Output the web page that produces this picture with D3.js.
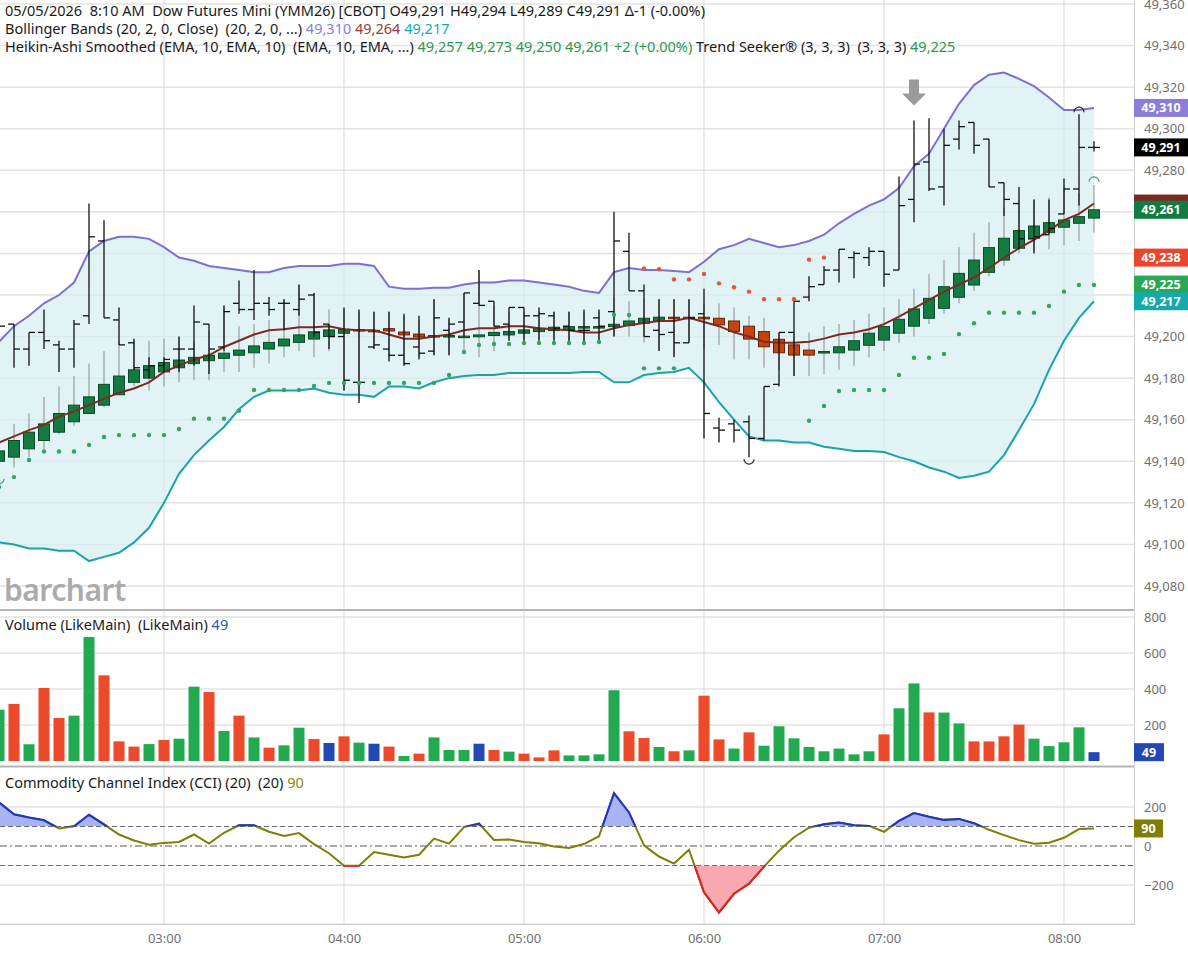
<!DOCTYPE html>
<html>
  <head>
    <meta charset="utf-8">
    <script type="text/javascript" src="https://cdn.jsdelivr.net/npm/d3@7"></script>
    <style type="text/css">
      body { margin: 0; background: #ffffff; }
      svg text { font-family: "Noto Sans", "Open Sans", sans-serif; white-space: pre; }
    </style>
  </head>
  <body>
    <script type="text/javascript">

      // 5 minute bars, 02:05 .. 08:10
      var times = ["02:05","02:10","02:15","02:20","02:25","02:30","02:35","02:40","02:45","02:50","02:55","03:00",
                   "03:05","03:10","03:15","03:20","03:25","03:30","03:35","03:40","03:45","03:50","03:55","04:00",
                   "04:05","04:10","04:15","04:20","04:25","04:30","04:35","04:40","04:45","04:50","04:55","05:00",
                   "05:05","05:10","05:15","05:20","05:25","05:30","05:35","05:40","05:45","05:50","05:55","06:00",
                   "06:05","06:10","06:15","06:20","06:25","06:30","06:35","06:40","06:45","06:50","06:55","07:00",
                   "07:05","07:10","07:15","07:20","07:25","07:30","07:35","07:40","07:45","07:50","07:55","08:00",
                   "08:05","08:10"];

      // plain OHLC bars
      var open  = [49205,49206,49194,49202,49196,49194,49210,49246,49208,49197,49184,49186,49194,49194,49206,49195,49216,49213,49216,49216,
                   49213,49220,49206,49200,49178,49195,49194,49191,49195,49193,49203,49207,49216,49217,49206,49214,49210,49210,49205,49203,
                   49209,49212,49241,49222,49203,49202,49197,49211,49156,49158,49159,49151,49177,49202,49219,49225,49232,49238,49238,49241,
                   49232,49266,49284,49272,49295,49303,49295,49274,49264,49247,49249,49259,49271,49291];
      var high  = [49208,49206,49202,49213,49198,49208,49264,49256,49214,49199,49190,49190,49200,49215,49206,49215,49227,49232,49219,49218,
                   49225,49221,49206,49214,49213,49212,49212,49211,49210,49218,49209,49221,49232,49217,49214,49214,49214,49212,49212,49213,
                   49213,49260,49250,49225,49218,49218,49218,49223,49161,49160,49162,49176,49202,49219,49229,49234,49242,49241,49243,49241,
                   49277,49304,49305,49300,49304,49303,49295,49274,49272,49266,49266,49276,49307,49294];
      var low   = [49196,49185,49186,49194,49183,49185,49206,49209,49196,49184,49180,49183,49183,49186,49182,49193,49211,49208,49210,49203,
                   49210,49200,49194,49174,49168,49194,49188,49186,49189,49191,49191,49200,49215,49205,49198,49198,49198,49198,49197,49197,
                   49197,49200,49222,49200,49193,49190,49197,49151,49149,49149,49142,49150,49176,49181,49217,49225,49226,49228,49234,49224,
                   49232,49255,49270,49263,49290,49288,49272,49258,49242,49240,49249,49259,49263,49289];
      var close = [49205,49194,49202,49198,49194,49206,49248,49209,49196,49185,49186,49189,49194,49207,49194,49212,49213,49216,49213,49216,
                   49218,49202,49200,49179,49178,49196,49191,49187,49192,49209,49206,49221,49215,49205,49214,49210,49211,49204,49203,49203,
                   49205,49246,49222,49200,49201,49197,49209,49163,49155,49155,49151,49176,49202,49217,49224,49232,49242,49240,49241,49230,
                   49263,49283,49271,49292,49301,49292,49272,49266,49247,49248,49252,49271,49291,49291];

      // Heikin-Ashi Smoothed candles
      var haOpen  = [49140,49142,49146,49150,49154,49159,49163,49167,49172,49178,49180,49183,49185,49187,49188.4,49189.5,49191,49192.2,49194,49195.5,
                     49197.2,49198.8,49200,49201.6,49203,49203,49203.8,49202.2,49201.2,49200.5,49200.2,49200,49199.9,49200.5,49200.8,49201.6,49202.4,49202.9,49203.2,49204.3,
                     49204.3,49204.8,49205.3,49206.4,49207.6,49209.3,49209.3,49209.3,49208.8,49207.5,49205,49202.4,49198.7,49196,49193.5,49192.4,49192.2,49193.5,49195.8,49198.3,
                     49201.6,49205,49208.8,49213.6,49218.9,49224.8,49230.9,49236.8,49242.5,49247.3,49250,49252.6,49254.5,49257];
      var haClose = [49145,49150,49154,49158,49163,49167,49171,49177,49181,49184,49186,49187.5,49188.7,49190,49191,49192,49193.5,49195.5,49197.2,49198.8,
                     49200.8,49202.3,49203.2,49203.5,49203.4,49202.6,49202.7,49200.8,49199.8,49200,49200.5,49200.2,49200.8,49202,49202.4,49203.2,49204,49204.5,49204.8,49204.8,
                     49204.8,49205.9,49207.5,49208.8,49209.3,49208.7,49208.7,49208.5,49205.6,49202.4,49198.8,49195.1,49192.2,49191.1,49191.1,49192.8,49195.1,49198,49201.6,49204.8,
                     49208.3,49213.3,49218.4,49224,49230.4,49236.8,49242.8,49247.3,49251,49253.2,49254.8,49256.1,49257.7,49261];
      var haHigh  = [49150,49158,49163,49171,49176,49181,49187,49193,49198,49198,49198,49199,49200,49198,49203,49215,49205,49206,49208,49218,
                     49225,49221,49213,49213,49212,49212,49212,49210,49208,49218,49208,49221,49232,49215,49212,49212,49212,49212,49212,49212,
                     49212,49219,49217,49218,49218,49218,49218,49216,49216,49214,49210,49209,49202,49202,49202,49205,49206,49208,49211,49214,
                     49218,49223,49230,49237,49243,49250,49255,49262,49266,49266,49267,49272,49269,49273];
      var haLow   = [49133,49137,49142,49146,49153,49157,49165,49166,49172,49176,49174,49176,49178,49179,49179,49183,49183,49185,49187,49190,
                     49193,49190,49193,49174,49170,49195,49190,49186,49190,49191,49191,49192,49190,49193,49198,49198,49198,49198,49198,49198,
                     49198,49200,49200,49197,49193,49191,49197,49194,49196,49189,49189,49185,49184,49181,49181,49182,49184,49186,49190,49193,
                     49197,49200,49206,49211,49216,49222,49229,49234,49240,49241,49242,49244,49246,49250];

      // Bollinger Bands (20, 2)
      var bbUpper = [49197.5,49205,49210,49216,49220,49226,49241,49246,49248,49248,49247,49243,49238,49236.5,49234,49233,49232,49231,49231,49233,
                     49234,49234,49234,49235,49235,49234,49224,49223,49223,49223.5,49223.5,49225,49226,49226,49227,49227,49226,49225,49224,49222,
                     49221,49231,49233,49232,49232,49231.5,49231,49236,49242,49244,49247,49245,49243,49244,49246,49249,49254.5,49259,49263,49266,
                     49271.5,49282,49288,49300,49312,49321,49326,49327,49324,49320.5,49315,49309,49309,49310];
      var bbMiddle = [49149,49152,49155,49157.5,49161.5,49164,49167,49170,49173,49175,49178,49183,49186,49189,49191,49195,49198,49201,49203,49203.5,
                      49204.5,49204.5,49205,49203.5,49203,49203,49201,49199,49199,49200,49201,49203,49204,49204,49205,49205,49204,49203.5,49203,49202,
                      49202,49204,49205.5,49206.5,49207.5,49207.5,49209,49207,49205,49202,49200,49197.5,49197,49197,49197.5,49199,49201,49202,49203.5,49206,
                      49209.6,49213.6,49217.6,49221.6,49225,49228.5,49233,49238,49242.5,49246.5,49251,49256,49259,49264];
      var bbLower = [49101,49100,49098,49098,49097,49097,49092,49094,49096,49101,49108,49120,49134,49143,49150,49156.5,49165,49171,49174,49174,
                     49174,49175,49173,49172,49172,49171,49176,49176,49175,49178,49180,49181,49181.5,49181.5,49182.5,49182.5,49182.5,49182.5,49182.5,49183,
                     49183,49178,49178,49181.5,49182.5,49183,49185,49178,49168.5,49160,49152,49150,49150,49149,49149,49147,49146,49145,49145,49144.5,
                     49142,49140,49137,49135,49132,49133,49135,49143,49155,49167.5,49184,49198,49209,49217];

      // Trend Seeker support (green) and resistance (red) dots
      var tsSupport = [49127.6,49132.4,49140.6,49144.7,49144.7,49144.7,49147.8,49151.7,49152.6,49152.6,49152.6,49152.6,49155.5,49160.5,49160.5,49160.5,49164.3,49174.3,49174.3,49174.3,
                       49174.3,49176.2,49177.7,49177.7,49177.7,49177.7,49177.7,49177.7,49177.7,49177.7,49181.5,49192.6,49196,49196.4,49196.4,49196.9,49196.9,49196.9,49196.9,49196.9,
                       49197.4,49210.4,49210.4,49184.7,49184.7,49184.7,null,null,null,null,null,null,null,null,49159.5,49166.6,49173.8,49174.3,49174.3,49174.3,
                       49181.5,49189.8,49189.8,49191.6,49201.2,49206.4,49211.5,49211.5,49211.5,49211.5,49214.7,49221.6,49224.8,49224.8];
      var tsResist = [null,null,null,null,null,null,null,null,null,null,null,null,null,null,null,null,null,null,null,null,
                      null,null,null,null,null,null,null,null,null,null,null,null,null,null,null,null,null,null,null,null,
                      null,null,null,49232.8,49232.4,49227.5,49227.5,49230.1,49225.6,49223.7,49221.6,49218,49218,49218,49237,49238,null,null,null,null,
                      null,null,null,null,null,null,null,null,null,null,null,null,null,null];

      // volume and bar direction (u = up, d = down, n = unchanged)
      var volume = [285,317,93,406,239,252,689,476,109,80,94,117,124,413,383,167,252,131,74,87,
                    185,122,100,137,102,96,80,28,41,131,61,61,96,61,52,41,20,59,31,31,
                    37,393,165,128,78,54,59,363,120,69,159,85,193,126,78,54,69,37,54,148,
                    293,431,270,269,209,109,109,137,202,124,83,104,187,49];
      var volDir = ["u","d","u","d","d","u","u","d","d","d","u","d","u","u","d","u","d","u","d","u",
                    "u","d","n","d","u","n","d","u","d","u","u","u","n","d","u","d","d","d","u","u",
                    "u","u","d","d","u","d","u","d","d","u","d","u","u","u","u","u","u","u","u","d",
                    "u","u","d","u","u","d","d","d","d","u","u","u","u","n"];

      // Commodity Channel Index (20)
      var cci = [224,163,146,132,90,101,160,111,59,28,7,16,21,59,12,68,106,106,73,52,
                 66,10,-37,-101,-101,-31,-45,-59,-45,38,12,97,115,31,33,21,14,-2,-10,10,
                 50,271,172,3,-54,-90,-19,-237,-341,-245,-193,-106,-24,45,94,111,120,106,103,73,
                 129,169,150,134,139,117,83,56,30,12,17,42,87,90];

      // markers: swing highs / lows and the Trend Seeker signal arrow
      var swingLowBars = [50];
      var swingHighBars = [72];
      var haSwingHighBars = [73];
      var haSwingLowBars = [0];
      var signalBars = [61];

      // ticks (grid) and the labels left visible beside the value boxes
      var priceTicks = [49080,49100,49120,49140,49160,49180,49200,49220,49240,49260,49280,49300,49320,49340,49360];
      var priceLabels = [49080,49100,49120,49140,49160,49180,49200,49280,49300,49320,49340,49360];
      var volTicks = [0,200,400,600,800];
      var volLabels = [200,400,600,800];
      var cciTicks = [-200,0,200];
      var hourTicks = ["03:00","04:00","05:00","06:00","07:00","08:00"];

      // last values for the axis boxes
      var lastBBUpper = 49310, lastClose = 49291, lastBBMiddle = 49264, lastHA = 49261;
      var lastResist = 49238, lastSupport = 49225, lastBBLower = 49217;
      var lastVolume = 49, lastCCI = 90;

      var width = 1188;
      var height = 953;
      var plotRight = 1134;

      var svg = d3.select("body")
                  .append("svg")
                  .attr("width", width)
                  .attr("height", height);

      var parse = d3.timeParse("%H:%M");
      var dates = times.map(parse);
      var hours = hourTicks.map(parse);

      var x = d3.scaleTime()
                .domain([dates[0], dates[dates.length - 1]])
                .range([-1, 1094]);
      var y = d3.scaleLinear().domain([49080, 49360]).range([586, 4]);
      var yV = d3.scaleLinear().domain([0, 800]).range([761, 617]);
      var yC = d3.scaleLinear().domain([-200, 200]).range([885, 807]);
      var xi = function(i) { return x(dates[i]); };

      var defs = svg.append("defs");
      function clip(id, y0, h) {
        defs.append("clipPath").attr("id", id)
            .append("rect").attr("x", 0).attr("y", y0).attr("width", plotRight).attr("height", h);
      }
      clip("cMain", 0, 609);
      clip("cVol", 612, 154);
      clip("cCci", 768, 157);
      clip("cUp", 768, yC(100) - 768);
      clip("cDn", yC(-100), 925 - yC(-100));

      var gridCol = "#e3e3e3";

      // ---------- grid ----------
      var grid = svg.append("g");
      grid.selectAll(".hp").data(priceTicks).enter().append("line")
          .attr("x1", 0).attr("x2", plotRight)
          .attr("y1", function(d){ return y(d); }).attr("y2", function(d){ return y(d); })
          .attr("stroke", gridCol).attr("stroke-width", 1.5);
      grid.selectAll(".hv").data(volTicks.slice(1)).enter().append("line")
          .attr("x1", 0).attr("x2", plotRight)
          .attr("y1", function(d){ return yV(d); }).attr("y2", function(d){ return yV(d); })
          .attr("stroke", gridCol).attr("stroke-width", 1.5);
      grid.selectAll(".hc").data([200, -200, -400]).enter().append("line")
          .attr("x1", 0).attr("x2", plotRight)
          .attr("y1", function(d){ return yC(d); }).attr("y2", function(d){ return yC(d); })
          .attr("stroke", gridCol).attr("stroke-width", 1.5);
      grid.selectAll(".vt").data(hours).enter().append("line")
          .attr("x1", function(d){ return x(d); }).attr("x2", function(d){ return x(d); })
          .attr("y1", 0).attr("y2", 925)
          .attr("stroke", "#d9d9d9").attr("stroke-width", 1);

      // ---------- main panel ----------
      var main = svg.append("g").attr("clip-path", "url(#cMain)");

      var band = d3.area()
                   .x(function(d, i){ return xi(i); })
                   .y0(function(d, i){ return y(bbLower[i]); })
                   .y1(function(d){ return y(d); });
      main.append("path").datum(bbUpper)
          .attr("d", band).attr("fill", "#d6eef2").attr("opacity", 0.7);

      var line = function(arr) {
        return d3.line().x(function(d, i){ return xi(i); }).y(function(d){ return y(d); })(arr);
      };
      main.append("path").attr("d", line(bbUpper)).attr("fill", "none")
          .attr("stroke", "#7d70d2").attr("stroke-width", 2);
      main.append("path").attr("d", line(bbLower)).attr("fill", "none")
          .attr("stroke", "#17a5a6").attr("stroke-width", 2);

      // Heikin-Ashi wicks and bodies
      var idx = d3.range(times.length);
      main.selectAll(".haw").data(idx).enter().append("line")
          .attr("x1", xi).attr("x2", xi)
          .attr("y1", function(i){ return y(haHigh[i]); })
          .attr("y2", function(i){ return y(haLow[i]); })
          .attr("stroke", "#8c8c8c").attr("stroke-width", 1);
      main.selectAll(".hab").data(idx).enter().append("rect")
          .attr("x", function(i){ return xi(i) - 5.5; })
          .attr("width", 11)
          .attr("y", function(i){ return y(Math.max(haOpen[i], haClose[i])); })
          .attr("height", function(i){ return Math.max(1.5, Math.abs(y(haOpen[i]) - y(haClose[i]))); })
          .attr("fill", function(i){ return haClose[i] >= haOpen[i] ? "#137b42" : "#c4430f"; })
          .attr("stroke", function(i){ return haClose[i] >= haOpen[i] ? "#0b4a27" : "#6a2407"; })
          .attr("stroke-width", 1);

      main.append("path").attr("d", line(bbMiddle)).attr("fill", "none")
          .attr("stroke", "#7d2a25").attr("stroke-width", 2);

      // OHLC bars
      var bars = main.selectAll(".ohlc").data(idx).enter().append("g");
      bars.append("line")
          .attr("x1", xi).attr("x2", xi)
          .attr("y1", function(i){ return y(high[i]); })
          .attr("y2", function(i){ return y(low[i]); })
          .attr("stroke", "#111").attr("stroke-width", 1.3);
      bars.append("line")
          .attr("x1", function(i){ return xi(i) - 6; }).attr("x2", xi)
          .attr("y1", function(i){ return y(open[i]); })
          .attr("y2", function(i){ return y(open[i]); })
          .attr("stroke", "#111").attr("stroke-width", 1.3);
      bars.append("line")
          .attr("x1", xi).attr("x2", function(i){ return xi(i) + 6; })
          .attr("y1", function(i){ return y(close[i]); })
          .attr("y2", function(i){ return y(close[i]); })
          .attr("stroke", "#111").attr("stroke-width", 1.3);

      // Trend Seeker dots
      main.selectAll(".tss").data(idx.filter(function(i){ return tsSupport[i] !== null; }))
          .enter().append("circle")
          .attr("cx", xi).attr("cy", function(i){ return y(tsSupport[i]); })
          .attr("r", 2.2).attr("fill", "#35a463");
      main.selectAll(".tsr").data(idx.filter(function(i){ return tsResist[i] !== null; }))
          .enter().append("circle")
          .attr("cx", xi).attr("cy", function(i){ return y(tsResist[i]); })
          .attr("r", 2.2).attr("fill", "#e8553e");

      // swing markers (small half circles)
      var arc = function(cx, cy, up) {
        return up ? "M" + (cx - 5) + "," + cy + " A5,5 0 0 1 " + (cx + 5) + "," + cy
                  : "M" + (cx - 5) + "," + cy + " A5,5 0 0 0 " + (cx + 5) + "," + cy;
      };
      swingLowBars.forEach(function(i){
        main.append("path").attr("d", arc(xi(i), y(low[i]) + 2, false))
            .attr("fill", "none").attr("stroke", "#222").attr("stroke-width", 1.2);
      });
      swingHighBars.forEach(function(i){
        main.append("path").attr("d", arc(xi(i), y(high[i]) - 2, true))
            .attr("fill", "none").attr("stroke", "#222").attr("stroke-width", 1.2);
      });
      haSwingHighBars.forEach(function(i){
        main.append("path").attr("d", arc(xi(i), y(haHigh[i]) - 3, true))
            .attr("fill", "none").attr("stroke", "#3a9e86").attr("stroke-width", 1.2);
      });
      haSwingLowBars.forEach(function(i){
        main.append("path").attr("d", arc(xi(i), y(haLow[i]) + 3, false))
            .attr("fill", "none").attr("stroke", "#3a9e86").attr("stroke-width", 1.2);
      });

      // Trend Seeker sell arrow
      signalBars.forEach(function(i){
        var cx = xi(i), tip = y(high[i]) - 15;
        main.append("path")
            .attr("d", "M" + (cx - 5) + "," + (tip - 26) + " H" + (cx + 5) + " V" + (tip - 12) +
                       " H" + (cx + 12) + " L" + cx + "," + tip + " L" + (cx - 12) + "," + (tip - 12) +
                       " H" + (cx - 5) + " Z")
            .attr("fill", "#9a9a9a");
      });

      // watermark
      svg.append("text").attr("x", 4).attr("y", 601)
         .attr("font-size", 30).attr("font-weight", 600).attr("fill", "#ababab")
         .attr("letter-spacing", -0.5)
         .text("barchart");

      // ---------- volume panel ----------
      var vol = svg.append("g").attr("clip-path", "url(#cVol)");
      var volColor = { u: "#22aa50", d: "#ec4a2b", n: "#2247b6" };
      vol.selectAll("rect").data(idx).enter().append("rect")
         .attr("x", function(i){ return xi(i) - 5.5; })
         .attr("width", 11)
         .attr("y", function(i){ return yV(volume[i]); })
         .attr("height", function(i){ return yV(0) - yV(volume[i]); })
         .attr("fill", function(i){ return volColor[volDir[i]]; });

      // ---------- CCI panel ----------
      var cciG = svg.append("g").attr("clip-path", "url(#cCci)");
      var refLine = function(v, dash) {
        cciG.append("line").attr("x1", 0).attr("x2", plotRight)
            .attr("y1", yC(v)).attr("y2", yC(v))
            .attr("stroke", "#555").attr("stroke-width", 1)
            .attr("stroke-dasharray", dash);
      };
      refLine(100, "5,3");
      refLine(-100, "5,3");
      refLine(0, "7,3,2,3");

      var cciX = function(d, i){ return xi(i); };
      var cciLine = d3.line().x(cciX).y(function(d){ return yC(d); });
      var areaUp = d3.area().x(cciX).y0(yC(100)).y1(function(d){ return yC(d); });
      var areaDn = d3.area().x(cciX).y0(yC(-100)).y1(function(d){ return yC(d); });

      cciG.append("path").datum(cci).attr("d", areaUp)
          .attr("fill", "#a8b3f3").attr("clip-path", "url(#cUp)");
      cciG.append("path").datum(cci).attr("d", areaDn)
          .attr("fill", "#f8a9b0").attr("clip-path", "url(#cDn)");
      cciG.append("path").datum(cci).attr("d", cciLine)
          .attr("fill", "none").attr("stroke", "#7f7f05").attr("stroke-width", 2);
      cciG.append("path").datum(cci).attr("d", cciLine)
          .attr("fill", "none").attr("stroke", "#1f35cc").attr("stroke-width", 2)
          .attr("clip-path", "url(#cUp)");
      cciG.append("path").datum(cci).attr("d", cciLine)
          .attr("fill", "none").attr("stroke", "#e0202c").attr("stroke-width", 2)
          .attr("clip-path", "url(#cDn)");

      // ---------- frame ----------
      svg.append("line").attr("x1", 0).attr("x2", plotRight).attr("y1", 610).attr("y2", 610)
         .attr("stroke", "#b5b5b5").attr("stroke-width", 2);
      svg.append("line").attr("x1", 0).attr("x2", plotRight).attr("y1", 766.5).attr("y2", 766.5)
         .attr("stroke", "#b5b5b5").attr("stroke-width", 2);
      svg.append("line").attr("x1", 0).attr("x2", plotRight).attr("y1", 924.5).attr("y2", 924.5)
         .attr("stroke", "#d0d0d0").attr("stroke-width", 1);
      svg.append("line").attr("x1", plotRight + 0.5).attr("x2", plotRight + 0.5).attr("y1", 0).attr("y2", 925)
         .attr("stroke", "#d0d0d0").attr("stroke-width", 1);

      // ---------- axes ----------
      var styleAxis = function(g) {
        g.select(".domain").remove();
        g.selectAll("text").attr("fill", "#707070").attr("font-size", 13)
         .attr("font-family", "Noto Sans, Open Sans, sans-serif");
      };
      svg.append("g").attr("transform", "translate(" + (plotRight + 10) + ",0)")
         .call(d3.axisRight(y).tickValues(priceLabels).tickFormat(d3.format(",")).tickSize(0).tickPadding(0))
         .call(styleAxis);
      svg.append("g").attr("transform", "translate(" + (plotRight + 10) + ",0)")
         .call(d3.axisRight(yV).tickValues(volLabels).tickFormat(d3.format("d")).tickSize(0).tickPadding(0))
         .call(styleAxis);
      svg.append("g").attr("transform", "translate(" + (plotRight + 10) + ",0)")
         .call(d3.axisRight(yC).tickValues(cciTicks).tickFormat(d3.format("d")).tickSize(0).tickPadding(0))
         .call(styleAxis);
      svg.append("g").attr("transform", "translate(0,930)")
         .call(d3.axisBottom(x).tickValues(hours).tickFormat(d3.timeFormat("%H:%M")).tickSize(0).tickPadding(4))
         .call(styleAxis);

      // value boxes on the right axis (the middle band box sits under the HA box)
      var boxes = [
        { v: lastBBUpper,  s: y,  c: "#8b7ed8", w: 54, t: true },
        { v: lastClose,    s: y,  c: "#000000", w: 54, t: true },
        { v: lastBBMiddle, s: y,  c: "#7d2a25", w: 54, t: false },
        { v: lastHA,       s: y,  c: "#137b42", w: 54, t: true },
        { v: lastResist,   s: y,  c: "#e8472e", w: 54, t: true },
        { v: lastSupport,  s: y,  c: "#2aa654", w: 54, t: true },
        { v: lastBBLower,  s: y,  c: "#16a9ab", w: 54, t: true },
        { v: lastVolume,   s: yV, c: "#2247b6", w: 30, t: true },
        { v: lastCCI,      s: yC, c: "#7f7f05", w: 29, t: true }
      ];
      var bx = svg.selectAll(".box").data(boxes).enter().append("g");
      bx.append("rect")
        .attr("x", plotRight).attr("width", function(d){ return d.w; })
        .attr("y", function(d){ return d.s(d.v) - 9; }).attr("height", 18)
        .attr("fill", function(d){ return d.c; });
      bx.filter(function(d){ return d.t; }).append("text")
        .attr("x", function(d){ return plotRight + d.w / 2; })
        .attr("y", function(d){ return d.s(d.v) + 4.5; })
        .attr("text-anchor", "middle").attr("font-size", 12.5).attr("font-weight", 700)
        .attr("fill", "#ffffff")
        .text(function(d){ return d3.format(",")(d.v); });

      // ---------- titles ----------
      var title = function(yPos, parts) {
        var t = svg.append("text").attr("x", 5).attr("y", yPos).attr("font-size", 14.5).attr("fill", "#1a1a1a");
        parts.forEach(function(p){
          t.append("tspan").attr("fill", p[1] || "#1a1a1a").text(p[0]);
        });
      };
      title(16, [["05/05/2026  8:10 AM  Dow Futures Mini (YMM26) [CBOT] O49,291 H49,294 L49,289 C49,291 \u0394-1 (-0.00%)"]]);
      title(34, [["Bollinger Bands (20, 2, 0, Close)  (20, 2, 0, ...) "], ["49,310 ", "#8b7ed8"],
                 ["49,264 ", "#9b3a30"], ["49,217", "#17a9ab"]]);
      title(52, [["Heikin-Ashi Smoothed (EMA, 10, EMA, 10)  (EMA, 10, EMA, ...) "],
                 ["49,257 49,273 49,250 49,261 +2 (+0.00%) ", "#2a9a4c"],
                 ["Trend Seeker\u00ae (3, 3, 3)  (3, 3, 3) "], ["49,225", "#2a9a4c"]]);
      title(630, [["Volume (LikeMain)  (LikeMain) "], ["49", "#2f58b0"]]);
      title(788, [["Commodity Channel Index (CCI) (20)  (20) "], ["90", "#8a8a00"]]);
    </script>
  </body>
</html>
